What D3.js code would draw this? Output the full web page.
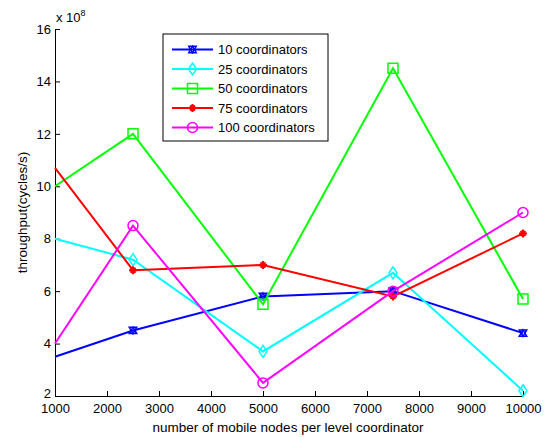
<!DOCTYPE html>
<html>
<head>
<meta charset="utf-8">
<script src="https://cdn.jsdelivr.net/npm/d3@7"></script>
<style>
  body { margin: 0; background: #fff; }
  text { font-family: "Liberation Sans", Arial, sans-serif; }
</style>
</head>
<body>
<svg id="chart" width="547" height="437"></svg>
<script>
// data (throughput in units of 1e8)
const xValues = [1000, 2500, 5000, 7500, 10000];
const seriesNames = ["10 coordinators", "25 coordinators", "50 coordinators", "75 coordinators", "100 coordinators"];
const coord10 = [3.5, 4.5, 5.8, 6.0, 4.4];
const coord25 = [8.0, 7.2, 3.7, 6.7, 2.2];
const coord50 = [10.0, 12.0, 5.5, 14.5, 5.7];
const coord75 = [10.7, 6.8, 7.0, 5.8, 8.2];
const coord100 = [4.0, 8.5, 2.5, 6.0, 9.0];
const xTicks = [1000, 2000, 3000, 4000, 5000, 6000, 7000, 8000, 9000, 10000];
const yTicks = [2, 4, 6, 8, 10, 12, 14, 16];

const series = [
    { name: seriesNames[0], values: coord10, color: "#0000ff", marker: "hexagram" },
    { name: seriesNames[1], values: coord25, color: "#00ffff", marker: "diamond" },
    { name: seriesNames[2], values: coord50, color: "#00ff00", marker: "square" },
    { name: seriesNames[3], values: coord75, color: "#ff0000", marker: "star" },
    { name: seriesNames[4], values: coord100, color: "#ff00ff", marker: "circle" }
];

const margin = { top: 29, right: 24, bottom: 41, left: 55 };
const width = 547 - margin.left - margin.right;
const height = 437 - margin.top - margin.bottom;
const fs = 13;

const svg = d3.select("#chart");
const g = svg.append("g").attr("transform", `translate(${margin.left},${margin.top})`);

const x = d3.scaleLinear().domain([1000, 10000]).range([0, width]);
const y = d3.scaleLinear().domain([2, 16]).range([height, 0]);

// axes
g.append("g")
    .attr("transform", `translate(0,${height})`)
    .call(d3.axisBottom(x).tickValues(xTicks).tickFormat(d3.format("d")).tickSizeInner(-5).tickSizeOuter(0).tickPadding(3))
    .call(a => a.selectAll("text").attr("font-size", fs).attr("fill", "#000").attr("dy", "1.05em"));
g.append("g")
    .call(d3.axisLeft(y).tickValues(yTicks).tickSizeInner(-5).tickSizeOuter(0).tickPadding(4))
    .call(a => a.selectAll("text").attr("font-size", fs).attr("fill", "#000"))
    .call(a => a.selectAll(".tick").filter(d => d === 2).select("text").attr("dy", "0.1em"));
g.selectAll(".domain").attr("stroke", "#000");
g.selectAll(".tick line").attr("stroke", "#000");

// exponent label
const expo = svg.append("text").attr("x", margin.left + 1).attr("y", 22).attr("font-size", fs);
expo.append("tspan").text("x 10");
expo.append("tspan").text("8").attr("font-size", 9).attr("dy", -6);

// axis titles
svg.append("text")
    .attr("x", margin.left + width / 2 - 1).attr("y", 432)
    .attr("text-anchor", "middle").attr("font-size", 13.5)
    .text("number of mobile nodes per level coordinator");
svg.append("text")
    .attr("transform", `translate(27,${margin.top + height / 2}) rotate(-90)`)
    .attr("text-anchor", "middle").attr("font-size", 13.5)
    .text("throughput(cycles/s)");

function drawMarker(sel, s, cx, cy) {
    const m = sel.append("g").attr("transform", `translate(${cx},${cy})`);
    if (s.marker === "circle") {
        m.append("circle").attr("r", 5).attr("fill", "none").attr("stroke", s.color).attr("stroke-width", 1.5);
    } else if (s.marker === "hexagram") {
        const tri = d3.symbol(d3.symbolTriangle, 24)();
        m.append("path").attr("d", tri).attr("fill", "none").attr("stroke", s.color).attr("stroke-width", 1.5).attr("transform", "translate(0,1)");
        m.append("path").attr("d", tri).attr("fill", "none").attr("stroke", s.color).attr("stroke-width", 1.5).attr("transform", "translate(0,-1) rotate(180)");
    } else if (s.marker === "star") {
        m.append("path").attr("d", "M0,-4V4M-4,0H4M-2.5,-2.5L2.5,2.5M-2.5,2.5L2.5,-2.5")
            .attr("stroke", s.color).attr("stroke-width", 2);
    } else if (s.marker === "diamond") {
        m.append("path").attr("d", "M0,-6L4,0L0,6L-4,0Z").attr("fill", "none").attr("stroke", s.color).attr("stroke-width", 1.5);
    } else {
        m.append("path").attr("d", "M-5,-5H5V5H-5Z").attr("fill", "none").attr("stroke", s.color).attr("stroke-width", 1.5);
    }
}

const line = d3.line().x((d, i) => x(xValues[i])).y(d => y(d));

series.forEach(s => {
    g.append("path")
        .datum(s.values)
        .attr("fill", "none")
        .attr("stroke", s.color)
        .attr("stroke-width", 2)
        .attr("d", line);
    s.values.forEach((v, i) => {
        if (i === 0) return;
        drawMarker(g, s, x(xValues[i]), y(v));
    });
});

// legend
const legend = svg.append("g").attr("transform", "translate(163,34)");
legend.append("rect").attr("width", 165).attr("height", 107)
    .attr("fill", "#fff").attr("stroke", "#000").attr("stroke-width", 1);
series.forEach((s, i) => {
    const ly = 15.5 + i * 19.5;
    legend.append("line").attr("x1", 9).attr("x2", 50).attr("y1", ly).attr("y2", ly)
        .attr("stroke", s.color).attr("stroke-width", 2);
    drawMarker(legend, s, 29.5, ly);
    legend.append("text").attr("x", 55).attr("y", ly + 4.5).attr("font-size", fs).text(s.name);
});
</script>
</body>
</html>
